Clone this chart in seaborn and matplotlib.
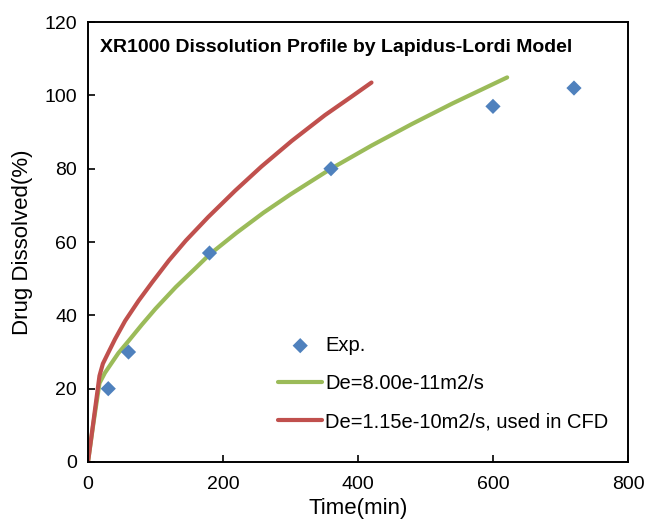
import numpy as np
import pandas as pd
import matplotlib
matplotlib.use('Agg')
import matplotlib.pyplot as plt
import seaborn as sns

# experimental points
exp_time = [30, 60, 180, 360, 600, 720]
exp_diss = [20, 30, 57, 80, 97, 102]

# model curve, De = 8.00e-11 m2/s
green_time = [0, 8, 17, 25, 35, 45, 60, 80, 100, 130, 160, 180, 220, 260,
              300, 360, 420, 480, 540, 621]
green_diss = [0, 10.5, 21.5, 24.3, 27, 29.7, 33, 37.5, 41.8, 47.7, 53, 56.6,
              62.5, 68, 73, 80, 86.3, 92.2, 97.8, 104.9]

# model curve, De = 1.15e-10 m2/s
red_time = [0, 8, 17, 22, 30, 40, 55, 75, 95, 120, 145, 178, 218, 257, 302,
            351, 390, 420]
red_diss = [0, 11, 23.5, 26.8, 29.8, 33.5, 38.5, 44, 49, 55, 60.4, 66.8,
            74, 80.6, 87.6, 94.6, 99.6, 103.5]

exp_df = pd.DataFrame({'Time': exp_time, 'Diss': exp_diss})
green_df = pd.DataFrame({'Time': green_time, 'Diss': green_diss})
red_df = pd.DataFrame({'Time': red_time, 'Diss': red_diss})

sns.set_style('white')
plt.rcParams['font.family'] = ['Liberation Sans', 'DejaVu Sans']
plt.rcParams['text.color'] = 'black'
plt.rcParams['axes.labelcolor'] = 'black'
plt.rcParams['xtick.color'] = 'black'
plt.rcParams['ytick.color'] = 'black'

fig = plt.figure(figsize=(6.49, 5.25), dpi=100)
ax = fig.add_axes([0.1356, 0.12, 0.832, 0.838])

sns.scatterplot(data=exp_df, x='Time', y='Diss', ax=ax, marker='D', s=60,
                color='#4f81bd', edgecolor='none', label='Exp.', zorder=3)
sns.lineplot(data=green_df, x='Time', y='Diss', ax=ax, color='#9bbb59',
             linewidth=3, label='De=8.00e-11m2/s', sort=False)
sns.lineplot(data=red_df, x='Time', y='Diss', ax=ax, color='#c0504d',
             linewidth=3, label='De=1.15e-10m2/s, used in CFD', sort=False)

ax.set_xlim(0, 800)
ax.set_ylim(0, 120)
ax.set_xticks(range(0, 801, 200))
ax.set_yticks(range(0, 121, 20))
ax.tick_params(direction='in', length=5, width=1.2, labelsize=14, color='black',
               labelcolor='black', left=True, bottom=True)
ax.tick_params(axis='x', pad=10)
ax.tick_params(axis='y', pad=8)
for s in ax.spines.values():
    s.set_color('black')
    s.set_linewidth(1.4)

ax.set_xlabel('Time(min)', fontsize=16, labelpad=4, color='black')
ax.set_ylabel('Drug Dissolved(%)', fontsize=16, labelpad=8, color='black')
ax.text(0.022, 0.943, 'XR1000 Dissolution Profile by Lapidus-Lordi Model',
        transform=ax.transAxes, fontsize=14, fontweight='bold', va='center',
        color='black')

leg = ax.legend(loc='lower left', bbox_to_anchor=(0.352, 0.07), frameon=False,
                borderpad=0, borderaxespad=0, fontsize=14.5, handlelength=2.2,
                handletextpad=0.15, labelspacing=0.95)
for t in leg.get_texts():
    t.set_color('black')

fig.savefig('out.png', dpi=100)
